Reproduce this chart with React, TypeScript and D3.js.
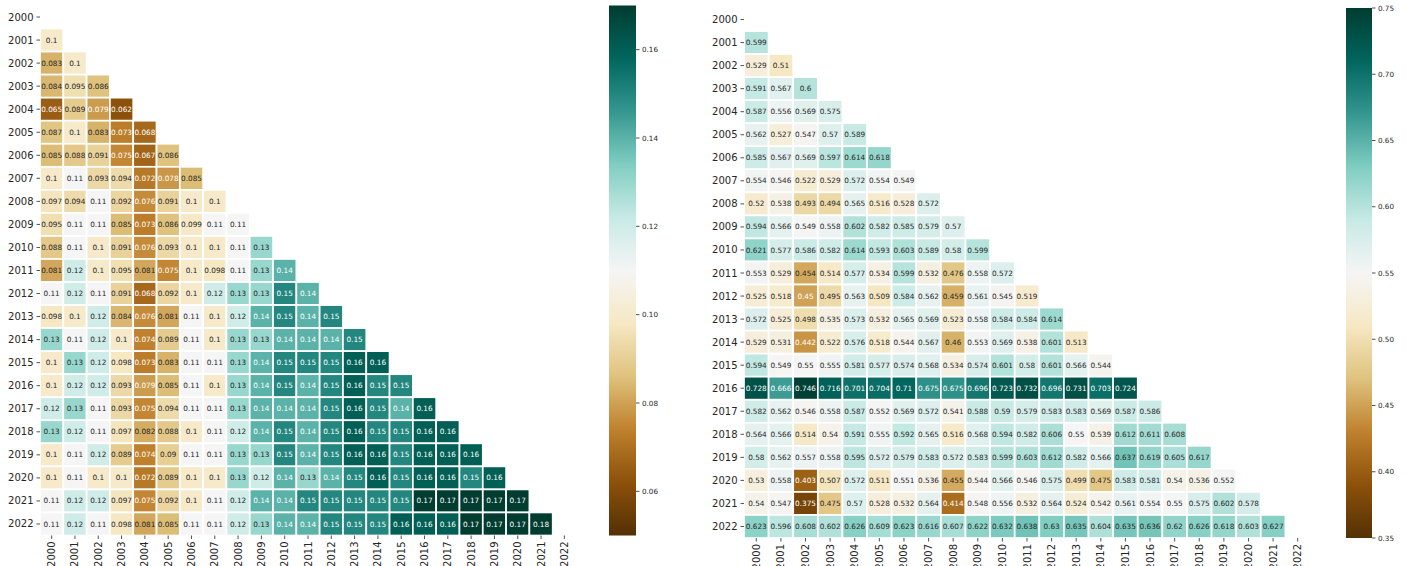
import React from "react";
import * as d3 from "d3";

// Year labels shared by both matrices (rows and columns)
const years = [
  "2000", "2001", "2002", "2003", "2004", "2005", "2006", "2007", "2008", "2009", "2010", "2011",
  "2012", "2013", "2014", "2015", "2016", "2017", "2018", "2019", "2020", "2021", "2022",
];

// Lower-triangle values of the left matrix; row i holds columns 2000 .. year(i)-1
const leftValues: number[][] = [
  [],
  [0.1],
  [0.083, 0.1],
  [0.084, 0.095, 0.086],
  [0.065, 0.089, 0.079, 0.062],
  [0.087, 0.1, 0.083, 0.073, 0.068],
  [0.085, 0.088, 0.091, 0.075, 0.067, 0.086],
  [0.1, 0.11, 0.093, 0.094, 0.072, 0.078, 0.085],
  [0.097, 0.094, 0.11, 0.092, 0.076, 0.091, 0.1, 0.1],
  [0.095, 0.11, 0.11, 0.085, 0.073, 0.086, 0.099, 0.11, 0.11],
  [0.088, 0.11, 0.1, 0.091, 0.076, 0.093, 0.1, 0.1, 0.11, 0.13],
  [0.081, 0.12, 0.1, 0.095, 0.081, 0.075, 0.1, 0.098, 0.11, 0.13, 0.14],
  [0.11, 0.12, 0.11, 0.091, 0.068, 0.092, 0.1, 0.12, 0.13, 0.13, 0.15, 0.14],
  [0.098, 0.1, 0.12, 0.084, 0.076, 0.081, 0.11, 0.1, 0.12, 0.14, 0.15, 0.14, 0.15],
  [0.13, 0.11, 0.12, 0.1, 0.074, 0.089, 0.11, 0.1, 0.13, 0.13, 0.14, 0.14, 0.14, 0.15],
  [0.1, 0.13, 0.12, 0.098, 0.073, 0.083, 0.11, 0.11, 0.13, 0.14, 0.15, 0.15, 0.15, 0.16, 0.16],
  [0.1, 0.12, 0.12, 0.093, 0.079, 0.085, 0.11, 0.1, 0.13, 0.14, 0.15, 0.14, 0.15, 0.16, 0.15, 0.15],
  [0.12, 0.13, 0.11, 0.093, 0.075, 0.094, 0.11, 0.11, 0.13, 0.14, 0.14, 0.14, 0.15, 0.16, 0.15, 0.14, 0.16],
  [0.13, 0.12, 0.11, 0.097, 0.082, 0.088, 0.1, 0.11, 0.12, 0.14, 0.15, 0.14, 0.15, 0.16, 0.15, 0.15, 0.16, 0.16],
  [0.1, 0.11, 0.12, 0.089, 0.074, 0.09, 0.11, 0.11, 0.13, 0.13, 0.15, 0.14, 0.15, 0.16, 0.16, 0.15, 0.16, 0.16, 0.16],
  [0.1, 0.11, 0.1, 0.1, 0.072, 0.089, 0.1, 0.1, 0.13, 0.12, 0.14, 0.13, 0.14, 0.15, 0.16, 0.15, 0.16, 0.16, 0.15, 0.16],
  [0.11, 0.12, 0.12, 0.097, 0.075, 0.092, 0.1, 0.11, 0.12, 0.14, 0.14, 0.15, 0.15, 0.15, 0.15, 0.15, 0.17, 0.17, 0.17, 0.17, 0.17],
  [0.11, 0.12, 0.11, 0.098, 0.081, 0.085, 0.11, 0.11, 0.12, 0.13, 0.14, 0.14, 0.15, 0.15, 0.15, 0.16, 0.16, 0.16, 0.17, 0.17, 0.17, 0.18],
];

// Lower-triangle values of the right matrix
const rightValues: number[][] = [
  [],
  [0.599],
  [0.529, 0.51],
  [0.591, 0.567, 0.6],
  [0.587, 0.556, 0.569, 0.575],
  [0.562, 0.527, 0.547, 0.57, 0.589],
  [0.585, 0.567, 0.569, 0.597, 0.614, 0.618],
  [0.554, 0.546, 0.522, 0.529, 0.572, 0.554, 0.549],
  [0.52, 0.538, 0.493, 0.494, 0.565, 0.516, 0.528, 0.572],
  [0.594, 0.566, 0.549, 0.558, 0.602, 0.582, 0.585, 0.579, 0.57],
  [0.621, 0.577, 0.586, 0.582, 0.614, 0.593, 0.603, 0.589, 0.58, 0.599],
  [0.553, 0.529, 0.454, 0.514, 0.577, 0.534, 0.599, 0.532, 0.476, 0.558, 0.572],
  [0.525, 0.518, 0.45, 0.495, 0.563, 0.509, 0.584, 0.562, 0.459, 0.561, 0.545, 0.519],
  [0.572, 0.525, 0.498, 0.535, 0.573, 0.532, 0.565, 0.569, 0.523, 0.558, 0.584, 0.584, 0.614],
  [0.529, 0.531, 0.442, 0.522, 0.576, 0.518, 0.544, 0.567, 0.46, 0.553, 0.569, 0.538, 0.601, 0.513],
  [0.594, 0.549, 0.55, 0.555, 0.581, 0.577, 0.574, 0.568, 0.534, 0.574, 0.601, 0.58, 0.601, 0.566, 0.544],
  [0.728, 0.666, 0.746, 0.716, 0.701, 0.704, 0.71, 0.675, 0.675, 0.696, 0.723, 0.732, 0.696, 0.731, 0.703, 0.724],
  [0.582, 0.562, 0.546, 0.558, 0.587, 0.552, 0.569, 0.572, 0.541, 0.588, 0.59, 0.579, 0.583, 0.583, 0.569, 0.587, 0.586],
  [0.564, 0.566, 0.514, 0.54, 0.591, 0.555, 0.592, 0.565, 0.516, 0.568, 0.594, 0.582, 0.606, 0.55, 0.539, 0.612, 0.611, 0.608],
  [0.58, 0.562, 0.557, 0.558, 0.595, 0.572, 0.579, 0.583, 0.572, 0.583, 0.599, 0.603, 0.612, 0.582, 0.566, 0.637, 0.619, 0.605, 0.617],
  [0.53, 0.558, 0.403, 0.507, 0.572, 0.511, 0.551, 0.536, 0.455, 0.544, 0.566, 0.546, 0.575, 0.499, 0.475, 0.583, 0.581, 0.54, 0.536, 0.552],
  [0.54, 0.547, 0.375, 0.475, 0.57, 0.528, 0.532, 0.564, 0.414, 0.548, 0.556, 0.532, 0.564, 0.524, 0.542, 0.561, 0.554, 0.55, 0.575, 0.602, 0.578],
  [0.623, 0.596, 0.608, 0.602, 0.626, 0.609, 0.623, 0.616, 0.607, 0.622, 0.632, 0.638, 0.63, 0.635, 0.604, 0.635, 0.636, 0.62, 0.626, 0.618, 0.603, 0.627],
];

// Colour-bar limits and ticks
const leftRange = [0.05, 0.17];
const leftTicks = [0.06, 0.08, 0.1, 0.12, 0.14, 0.16];
const rightRange = [0.35, 0.75];
const rightTicks = [0.35, 0.4, 0.45, 0.5, 0.55, 0.6, 0.65, 0.7, 0.75];

// BrBG, linearly interpolated between the 11 ColorBrewer anchors
const brbg = d3.schemeBrBG[11] as readonly string[];

const FONT = "DejaVu Sans, Liberation Sans, sans-serif";
const TEXT = "#262626";

function luminance(color: string): number {
  const c = d3.rgb(color);
  const lin = (v: number) => {
    const s = v / 255;
    return s <= 0.03928 ? s / 12.92 : Math.pow((s + 0.055) / 1.055, 2.4);
  };
  return 0.2126 * lin(c.r) + 0.7152 * lin(c.g) + 0.0722 * lin(c.b);
}

type PanelProps = {
  id: string;
  values: number[][];
  range: number[];
  ticks: number[];
  left: number;
  top: number;
  width: number;
  height: number;
  barX: number;
  barW: number;
};

function Panel({ id, values, range, ticks, left, top, width, height, barX, barW }: PanelProps) {
  const x = d3.scaleBand<string>().domain(years).range([left, left + width]);
  const y = d3.scaleBand<string>().domain(years).range([top, top + height]);
  const [vmin, vmax] = range;
  const color = d3
    .scaleLinear<string>()
    .domain(d3.range(11).map((i) => vmin + ((vmax - vmin) * i) / 10))
    .range(brbg as string[])
    .interpolate(d3.interpolateRgb)
    .clamp(true);
  const barY = d3.scaleLinear().domain([vmin, vmax]).range([top + height, top]);

  const cells = values.flatMap((row, ri) =>
    row.map((v, ci) => ({ row: years[ri], col: years[ci], v }))
  );

  return (
    <g>
      <defs>
        <linearGradient id={`grad-${id}`} x1="0" y1="1" x2="0" y2="0">
          {brbg.map((c, i) => (
            <stop key={i} offset={`${i * 10}%`} stopColor={c} />
          ))}
        </linearGradient>
      </defs>
      {cells.map((d) => {
        const fill = color(d.v);
        const tc = luminance(fill) > 0.408 ? TEXT : "#ffffff";
        const cx = (x(d.col) as number) + x.bandwidth() / 2;
        const cy = (y(d.row) as number) + y.bandwidth() / 2;
        return (
          <g key={`${d.row}-${d.col}`}>
            <rect
              x={x(d.col)}
              y={y(d.row)}
              width={x.bandwidth()}
              height={y.bandwidth()}
              fill={fill}
              stroke="#ffffff"
              strokeWidth={1.7}
            />
            <text
              x={cx}
              y={cy}
              dy="0.35em"
              textAnchor="middle"
              fontSize={7.3}
              fontFamily={FONT}
              fill={tc}
            >
              {String(d.v)}
            </text>
          </g>
        );
      })}
      {/* row axis */}
      {years.map((yr) => {
        const cy = (y(yr) as number) + y.bandwidth() / 2;
        return (
          <g key={`ry-${yr}`}>
            <line x1={left - 3.5} x2={left} y1={cy} y2={cy} stroke={TEXT} strokeWidth={0.8} />
            <text
              x={left - 6.5}
              y={cy}
              dy="0.35em"
              textAnchor="end"
              fontSize={10}
              fontFamily={FONT}
              fill={TEXT}
            >
              {yr}
            </text>
          </g>
        );
      })}
      {/* column axis */}
      {years.map((yr) => {
        const cx = (x(yr) as number) + x.bandwidth() / 2;
        const by = top + height;
        return (
          <g key={`cx-${yr}`}>
            <line x1={cx} x2={cx} y1={by} y2={by + 3.5} stroke={TEXT} strokeWidth={0.8} />
            <text
              transform={`translate(${cx},${by + 6}) rotate(-90)`}
              dy="0.35em"
              textAnchor="end"
              fontSize={10}
              fontFamily={FONT}
              fill={TEXT}
            >
              {yr}
            </text>
          </g>
        );
      })}
      {/* colour bar */}
      <rect x={barX} y={top} width={barW} height={height} fill={`url(#grad-${id})`} />
      {ticks.map((t) => (
        <g key={`cb-${t}`}>
          <line
            x1={barX + barW}
            x2={barX + barW + 3.5}
            y1={barY(t)}
            y2={barY(t)}
            stroke={TEXT}
            strokeWidth={0.8}
          />
          <text
            x={barX + barW + 6}
            y={barY(t)}
            dy="0.35em"
            fontSize={7.2}
            fontFamily={FONT}
            fill={TEXT}
          >
            {d3.format(".2f")(t)}
          </text>
        </g>
      ))}
    </g>
  );
}

export default function App() {
  return (
    <svg
      width={1406}
      height={566}
      style={{ position: "absolute", left: 0, top: 0, background: "#ffffff" }}
    >
      <Panel
        id="l"
        values={leftValues}
        range={leftRange}
        ticks={leftTicks}
        left={40}
        top={5.5}
        width={536}
        height={530}
        barX={609}
        barW={27}
      />
      <Panel
        id="r"
        values={rightValues}
        range={rightRange}
        ticks={rightTicks}
        left={744}
        top={8}
        width={566}
        height={530}
        barX={1346}
        barW={26}
      />
    </svg>
  );
}
